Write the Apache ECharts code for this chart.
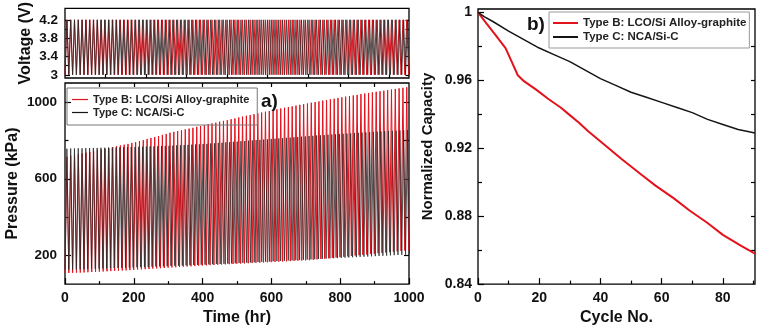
<!DOCTYPE html>
<html>
<head>
<meta charset="utf-8">
<script src="https://cdn.jsdelivr.net/npm/echarts@6/dist/echarts.min.js"></script>
<style>
  html, body { margin: 0; padding: 0; background: #fff; }
  #chart { width: 780px; height: 331px; }
</style>
</head>
<body>
<div id="chart"></div>
<script>
// ---- Series names ----
const nameB = 'Type B: LCO/Si Alloy-graphite';
const nameC = 'Type C: NCA/Si-C';

// ---- Cycling schedule (hours per charge/discharge cycle) ----
const typeBCycleHours = 11.1;
const typeCCycleHours = 11.0;

// ---- Voltage window (V) ----
const typeBVoltageLimits = [3.0, 4.2];
const typeCVoltageLimits = [3.0, 4.2];

// ---- Pressure per cycle (kPa): peak at end of charge, trough at end of discharge ----
const typeBPressurePeak = [
  715, 720, 725, 728, 732, 736, 740, 744, 748, 752,
  757, 760, 765, 770, 774, 778, 782, 787, 791,
  797, 802, 808, 813, 818, 823, 829, 834, 840,
  845, 849, 853, 858, 862, 866, 871, 875, 880,
  885, 889, 893, 898, 902, 906, 911, 915, 920,
  925, 929, 933, 937, 941, 946, 950, 954, 958,
  963, 967, 971, 974, 978, 982, 986, 989, 993,
  997, 1000, 1004, 1008, 1011, 1015, 1018, 1022, 1025,
  1029, 1032, 1035, 1038, 1042, 1045, 1048, 1051, 1054,
  1057, 1060, 1063, 1066, 1069, 1072, 1075, 1078
];
const typeBPressureTrough = [
  108, 108, 109, 110, 110, 111, 112, 113, 114, 115,
  116, 117, 118, 119, 120, 121, 122, 123, 124,
  126, 127, 128, 129, 131, 132, 133, 134, 136,
  137, 138, 139, 141, 142, 143, 144, 146, 147,
  148, 149, 150, 151, 152, 153, 154, 155, 156,
  157, 158, 159, 160, 161, 162, 163, 164, 165,
  166, 167, 168, 169, 170, 171, 172, 173, 174,
  175, 177, 179, 181, 183, 185, 187, 189, 191,
  193, 195, 197, 199, 201, 203, 205, 207, 209,
  211, 213, 215, 217, 219, 221, 223, 225
];
const typeCPressurePeak = [
  757, 758, 758, 759, 759, 760, 760, 761, 761, 762,
  762, 763, 763, 764, 764, 765, 765, 766, 766,
  767, 767, 768, 769, 769, 770, 771, 771, 772,
  773, 774, 775, 776, 777, 778, 779, 780, 781,
  782, 784, 785, 787, 788, 790, 791, 793, 794,
  796, 797, 799, 800, 802, 803, 805, 806, 808,
  809, 811, 812, 814, 815, 817, 818, 820, 821,
  823, 824, 826, 827, 828, 830, 831, 832, 834,
  835, 836, 837, 839, 840, 841, 842, 843, 845,
  846, 847, 848, 849, 850, 851, 852, 853, 854
];
const typeCPressureTrough = [
  125, 126, 126, 127, 128, 128, 129, 130, 130, 131,
  132, 132, 133, 134, 134, 135, 136, 136, 137,
  138, 139, 139, 140, 141, 142, 142, 143, 144,
  145, 146, 146, 147, 148, 149, 150, 150, 151,
  152, 153, 154, 155, 155, 156, 157, 158, 159,
  160, 161, 162, 163, 164, 165, 166, 167, 168,
  169, 170, 171, 172, 173, 174, 175, 176, 177,
  178, 179, 180, 181, 182, 183, 184, 185, 186,
  187, 188, 189, 190, 191, 192, 193, 194, 195,
  196, 197, 198, 199, 200, 201, 202, 203, 204
];

// ---- Capacity fade vs. cycle number ----
const typeBCapacityCycle = [0, 3, 6, 9, 11, 13, 15, 19, 23, 27, 30, 33, 36, 42, 47, 53, 58, 64, 69, 75, 80, 86, 90.5];
const typeBCapacity = [1.0, 0.993, 0.986, 0.979, 0.971, 0.963, 0.9595, 0.9545, 0.949, 0.944, 0.9395, 0.935, 0.930, 0.921, 0.9135, 0.905, 0.898, 0.8905, 0.8835, 0.876, 0.869, 0.8625, 0.858];
const typeCCapacityCycle = [0, 2, 5, 10, 15, 20, 25, 30, 35, 40, 45, 50, 55, 60, 65, 70, 75, 80, 85, 90.5];
const typeCCapacity = [1.0, 0.9975, 0.9945, 0.989, 0.984, 0.979, 0.975, 0.971, 0.966, 0.961, 0.957, 0.953, 0.950, 0.947, 0.944, 0.941, 0.937, 0.934, 0.931, 0.929];

// ---- Tick labels ----
const voltageTickLabels = [3, 3.4, 3.8, 4.2];
const pressureTickLabels = [200, 600, 1000];
const timeTickLabels = [0, 200, 400, 600, 800, 1000];
const capacityTickLabels = [0.84, 0.88, 0.92, 0.96, 1];
const cycleTickLabels = [0, 20, 40, 60, 80];

// ---- Minor / mirror tick positions ----
const voltageMinorTicks = [3.2, 3.6, 4.0];
const voltageRightTicks = [3, 3.2, 3.4, 3.6, 3.8, 4.0, 4.2];
const voltageTimeTicks = [100, 200, 300, 400, 500, 600, 700, 800];
const pressureMinorTicks = [400, 800];
const pressureRightTicks = [200, 400, 600, 800, 1000];
const timeMinorTicks = [100, 300, 500, 700, 900];
const timeTopTicks = [100, 200, 300, 400, 500, 600, 700, 800, 900];
const capacityMinorTicks = [0.86, 0.9, 0.94, 0.98];
const capacityRightTicks = [0.86, 0.88, 0.9, 0.92, 0.94, 0.96, 0.98];
const cycleMinorTicks = [10, 30, 50, 70, 90];

const RED = '#e3121c';
const BLACK = '#151515';
const TRACE_BLACK = '#2b2b2b';
const FONT = '"Liberation Sans", Arial, sans-serif';

// Charge/discharge sawtooth: trough at start of each cycle, peak half-way.
function cycleTrace(hours, peaks, troughs) {
  const pts = [];
  for (let k = 0; k < peaks.length; k++) {
    const t0 = k * hours;
    pts.push([t0, troughs[k]]);
    pts.push([t0 + hours / 2, peaks[k]]);
  }
  pts.push([peaks.length * hours, troughs[troughs.length - 1]]);
  return pts;
}
function repeat(v, n) { return new Array(n).fill(v); }
function pairs(xs, ys) { return xs.map((x, i) => [x, ys[i]]); }
function fmt(v) { return String(+(+v).toFixed(2)); }

function bareAxis(gridIndex, min, max, position) {
  return {
    type: 'value', gridIndex, min, max, position,
    axisLine: { show: false, onZero: false },
    splitLine: { show: false },
    axisLabel: { show: false },
    axisTick: { show: false }
  };
}
function tickAxis(gridIndex, min, max, position, values, len) {
  const a = bareAxis(gridIndex, min, max, position);
  a.axisTick = { show: true, inside: true, length: len, customValues: values,
                 lineStyle: { color: '#000', width: 1.2 } };
  return a;
}
function labelAxis(gridIndex, min, max, position, values, len, fontSize, margin) {
  const a = tickAxis(gridIndex, min, max, position, values, len);
  a.axisLabel = { show: true, customValues: values, formatter: fmt, margin,
                  fontFamily: FONT, fontWeight: 'bold', fontSize, color: '#111' };
  return a;
}
function withName(a, name, gap, size) {
  a.name = name;
  a.nameLocation = 'middle';
  a.nameGap = gap;
  a.nameTextStyle = { fontFamily: FONT, fontWeight: 'bold', fontSize: size, color: '#111' };
  return a;
}

const V_MIN = 2.93, V_MAX = 4.45;
const P_MIN = 50, P_MAX = 1100;
const C_MIN = 0.84, C_MAX = 1.002;

const chart = echarts.init(document.getElementById('chart'), null, { renderer: 'canvas' });

const option = {
  animation: false,
  backgroundColor: '#fff',
  grid: [
    { left: 65, top: 8, width: 344, height: 70, show: true, borderColor: '#000', borderWidth: 1.3, backgroundColor: 'transparent' },
    { left: 65, top: 83, width: 344, height: 203, show: true, borderColor: '#000', borderWidth: 1.3, backgroundColor: 'transparent' },
    { left: 478, top: 9, width: 277, height: 279, show: true, borderColor: '#000', borderWidth: 1.3, backgroundColor: 'transparent' }
  ],
  xAxis: [
    bareAxis(0, 0, 1000, 'bottom'),
    tickAxis(0, 0, 850, 'bottom', voltageTimeTicks, 4),
    withName(labelAxis(1, 0, 1000, 'bottom', timeTickLabels, 6, 14, 7), 'Time (hr)', 18, 16),
    tickAxis(1, 0, 1000, 'bottom', timeMinorTicks, 3),
    tickAxis(1, 0, 1000, 'top', timeTopTicks, 4),
    withName(labelAxis(2, 0, 90.5, 'bottom', cycleTickLabels, 6, 14, 7), 'Cycle No.', 18, 16),
    tickAxis(2, 0, 90.5, 'bottom', cycleMinorTicks, 3.5)
  ],
  yAxis: [
    withName(labelAxis(0, V_MIN, V_MAX, 'left', voltageTickLabels, 5, 13.5, 7), 'Voltage (V)', 31, 16),
    tickAxis(0, V_MIN, V_MAX, 'left', voltageMinorTicks, 3),
    tickAxis(0, V_MIN, V_MAX, 'right', voltageRightTicks, 3.5),
    withName(labelAxis(1, P_MIN, P_MAX, 'left', pressureTickLabels, 6, 13.5, 8), 'Pressure (kPa)', 44, 16),
    tickAxis(1, P_MIN, P_MAX, 'left', pressureMinorTicks, 3.5),
    tickAxis(1, P_MIN, P_MAX, 'right', pressureRightTicks, 5),
    withName(labelAxis(2, C_MIN, C_MAX, 'left', capacityTickLabels, 6, 14, 6), 'Normalized Capacity', 43, 15),
    tickAxis(2, C_MIN, C_MAX, 'left', capacityMinorTicks, 4),
    tickAxis(2, C_MIN, C_MAX, 'right', capacityRightTicks, 4)
  ],
  legend: [
    {
      left: 67, top: 88, orient: 'vertical', selectedMode: false,
      data: [nameB, nameC], icon: 'rect', itemWidth: 16, itemHeight: 1.2, itemGap: 2,
      borderColor: '#777', borderWidth: 1, padding: [6, 8, 7, 5],
      textStyle: { fontFamily: FONT, fontWeight: 'bold', fontSize: 11, color: '#222' }
    },
    {
      left: 549, top: 12, orient: 'vertical', selectedMode: false,
      data: [nameB, nameC], icon: 'rect', itemWidth: 25, itemHeight: 2, itemGap: 2,
      borderColor: '#999', borderWidth: 1, padding: [5, 3, 5, 4],
      textStyle: { fontFamily: FONT, fontWeight: 'bold', fontSize: 11.5, color: '#222' }
    }
  ],
  title: [
    { text: 'a)', left: 261, top: 92, textStyle: { fontFamily: FONT, fontWeight: 'bold', fontSize: 19, color: '#111' }, padding: 0 },
    { text: 'b)', left: 527, top: 15, textStyle: { fontFamily: FONT, fontWeight: 'bold', fontSize: 19, color: '#111' }, padding: 0 }
  ],
  series: [
    {
      name: nameB, type: 'line', xAxisIndex: 0, yAxisIndex: 0, showSymbol: false, silent: true,
      lineStyle: { color: RED, width: 1 }, itemStyle: { color: RED },
      data: cycleTrace(typeBCycleHours, repeat(typeBVoltageLimits[1], typeBPressurePeak.length), repeat(typeBVoltageLimits[0], typeBPressurePeak.length))
    },
    {
      name: nameC, type: 'line', xAxisIndex: 0, yAxisIndex: 0, showSymbol: false, silent: true,
      lineStyle: { color: TRACE_BLACK, width: 0.8 }, itemStyle: { color: BLACK },
      data: cycleTrace(typeCCycleHours, repeat(typeCVoltageLimits[1], typeCPressurePeak.length), repeat(typeCVoltageLimits[0], typeCPressurePeak.length))
    },
    {
      name: nameB, type: 'line', xAxisIndex: 2, yAxisIndex: 3, showSymbol: false, silent: true,
      lineStyle: { color: RED, width: 1 }, itemStyle: { color: RED },
      data: cycleTrace(typeBCycleHours, typeBPressurePeak, typeBPressureTrough)
    },
    {
      name: nameC, type: 'line', xAxisIndex: 2, yAxisIndex: 3, showSymbol: false, silent: true,
      lineStyle: { color: TRACE_BLACK, width: 0.8 }, itemStyle: { color: BLACK },
      data: cycleTrace(typeCCycleHours, typeCPressurePeak, typeCPressureTrough)
    },
    {
      name: nameB, type: 'line', xAxisIndex: 5, yAxisIndex: 6, showSymbol: false, silent: true,
      lineStyle: { color: RED, width: 2 }, itemStyle: { color: RED },
      data: pairs(typeBCapacityCycle, typeBCapacity)
    },
    {
      name: nameC, type: 'line', xAxisIndex: 5, yAxisIndex: 6, showSymbol: false, silent: true,
      lineStyle: { color: BLACK, width: 1.5 }, itemStyle: { color: BLACK },
      data: pairs(typeCCapacityCycle, typeCCapacity)
    }
  ]
};

chart.setOption(option);
</script>
</body>
</html>
